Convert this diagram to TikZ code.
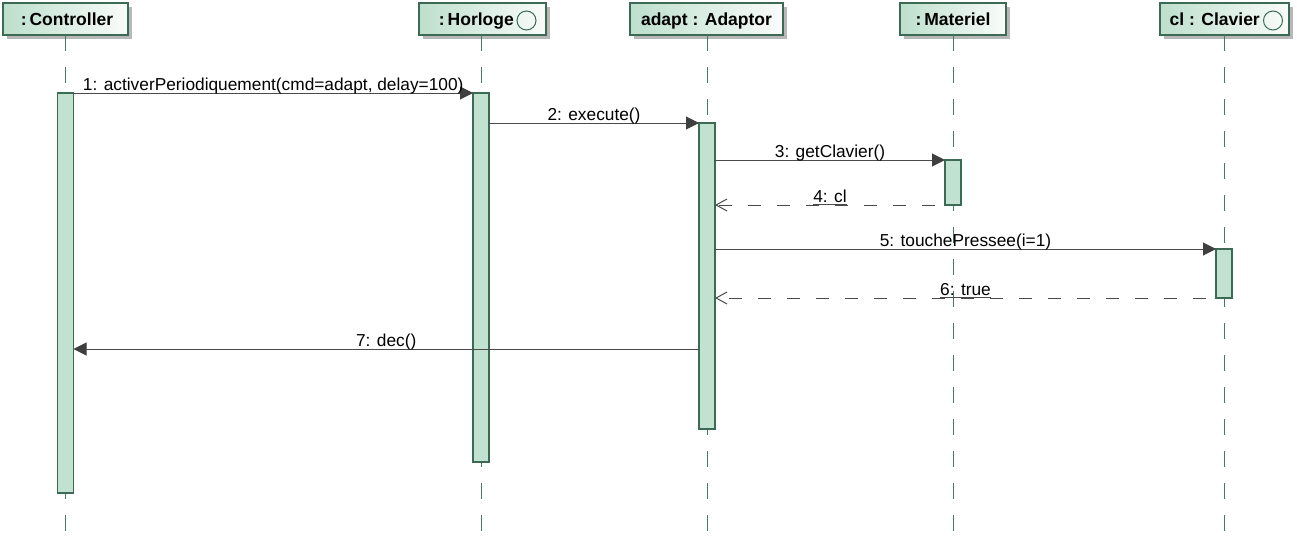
\documentclass[tikz,border=0pt]{standalone}
\usepackage{fontspec}
\setmainfont{Liberation Sans}
\usetikzlibrary{arrows.meta,shadows}
\definecolor{barfill}{HTML}{C2E2D1}
\definecolor{edgec}{HTML}{3C6A55}
\definecolor{lifec}{HTML}{4E7463}
\definecolor{boxl}{HTML}{BDDFCC}
\definecolor{boxr}{HTML}{F9FCFA}
\definecolor{msgc}{HTML}{4A4A4A}
\definecolor{tipc}{HTML}{3F3F3F}
\begin{document}
\begin{tikzpicture}[x=1pt,y=-1pt,
  hbox/.style={draw=edgec, line width=1.2pt, left color=boxl, right color=boxr,
    minimum height=32pt, inner sep=0pt, outer sep=0pt,
    drop shadow={shadow xshift=4pt,shadow yshift=-4pt,fill=black,opacity=.28}},
  htext/.style={anchor=base, font=\fontsize{17.5}{20}\selectfont\bfseries, inner sep=0pt},
  icon/.style={circle, draw=edgec, line width=1pt, minimum size=19pt, inner sep=0pt},
  bar/.style={draw=edgec, line width=1.2pt, fill=barfill, minimum width=16pt,
    inner sep=0pt, outer sep=0pt, anchor=north},
  lifeline/.style={draw=lifec, line width=1pt, dash pattern=on 16pt off 16pt},
  call/.style={draw=msgc, line width=1pt,
    -{Triangle[length=13pt,width=13pt,fill=tipc,color=tipc]}},
  ret/.style={draw=msgc, line width=1pt, dash pattern=on 13pt off 16pt, dash phase=19pt,
    -{Straight Barb[length=11pt,width=12pt,color=msgc]}},
  lbl/.style={anchor=base, inner sep=0pt, yshift=3pt, font=\fontsize{17.3}{20}\selectfont},
  uline/.style={draw=msgc, line width=1pt},
]
\useasboundingbox (0,0) rectangle (1297,543);

% header boxes
\node[hbox, minimum width=125pt] (hc) at (65.5,19) {};
\node[hbox, minimum width=127pt] (hh) at (482.5,19) {};
\node[hbox, minimum width=153pt] (ha) at (706.5,19) {};
\node[hbox, minimum width=106pt] (hm) at (953,19) {};
\node[hbox, minimum width=129pt] (hk) at (1224.5,19) {};

\node[htext] (tc) at (67,26) {:\,Controller};
\node[htext, anchor=base east] (th) at (514,26) {:\,Horloge};
\node[icon] (ih) at (526.5,20.5) {};
\node[htext] (ta) at (706.5,26) {adapt : Adaptor};
\node[htext] (tm) at (953,26) {:\,Materiel};
\node[htext, anchor=base east] (tk) at (1260,26) {cl : Clavier};
\node[icon] (ik) at (1273,20.5) {};

% lifeline ends
\coordinate (ec) at (65.5,531);
\coordinate (eh) at (482.5,531);
\coordinate (ea) at (706.5,531);
\coordinate (em) at (953,531);
\coordinate (ek) at (1224.5,531);

\draw[lifeline] (hc.south) -- (ec);
\draw[lifeline] (hh.south -| 481,0) -- (eh -| 481,0);
\draw[lifeline] (ha.south -| 707,0) -- (ea -| 707,0);
\draw[lifeline] (hm.south) -- (em);
\draw[lifeline] (hk.south -| 1224,0) -- (ek -| 1224,0);

% activation bars
\node[bar, minimum height=400pt] (bc) at (65.5,93) {};
\node[bar, minimum height=369pt] (bh) at (481,93) {};
\node[bar, minimum height=306pt] (ba) at (707,123) {};
\node[bar, minimum height=45pt]  (bm) at (953,160) {};
\node[bar, minimum height=49pt]  (bk) at (1224,249) {};

\coordinate (y7) at (0,349);

% messages
\draw[call] (bc.north east) -- node[lbl] (l1) {1: activerPeriodiquement(cmd=adapt, delay=100)} (bh.north west);
\draw[call] (bh.east |- ba.north) -- node[lbl] (l2) {2: execute()} (ba.north west);
\draw[call] (ba.east |- bm.north) -- node[lbl] (l3) {3: getClavier()} (bm.north west);
\draw[ret] (bm.south west) -- node[lbl] (l4) {4: cl} (ba.east |- bm.south);
\draw[uline] ([yshift=-2pt]l4.base west) -- ([yshift=-2pt]l4.base east);
\draw[call] (ba.east |- bk.north) -- node[lbl] (l5) {5: touchePressee(i=1)} (bk.north west);
\draw[ret] (bk.south west) -- node[lbl] (l6) {6: true} (ba.east |- bk.south);
\draw[uline] ([yshift=-2pt]l6.base west) -- ([yshift=-2pt]l6.base east);
\draw[call] (ba.west |- y7) -- node[lbl] (l7) {7: dec()} (bc.east |- y7);
\end{tikzpicture}
\end{document}
